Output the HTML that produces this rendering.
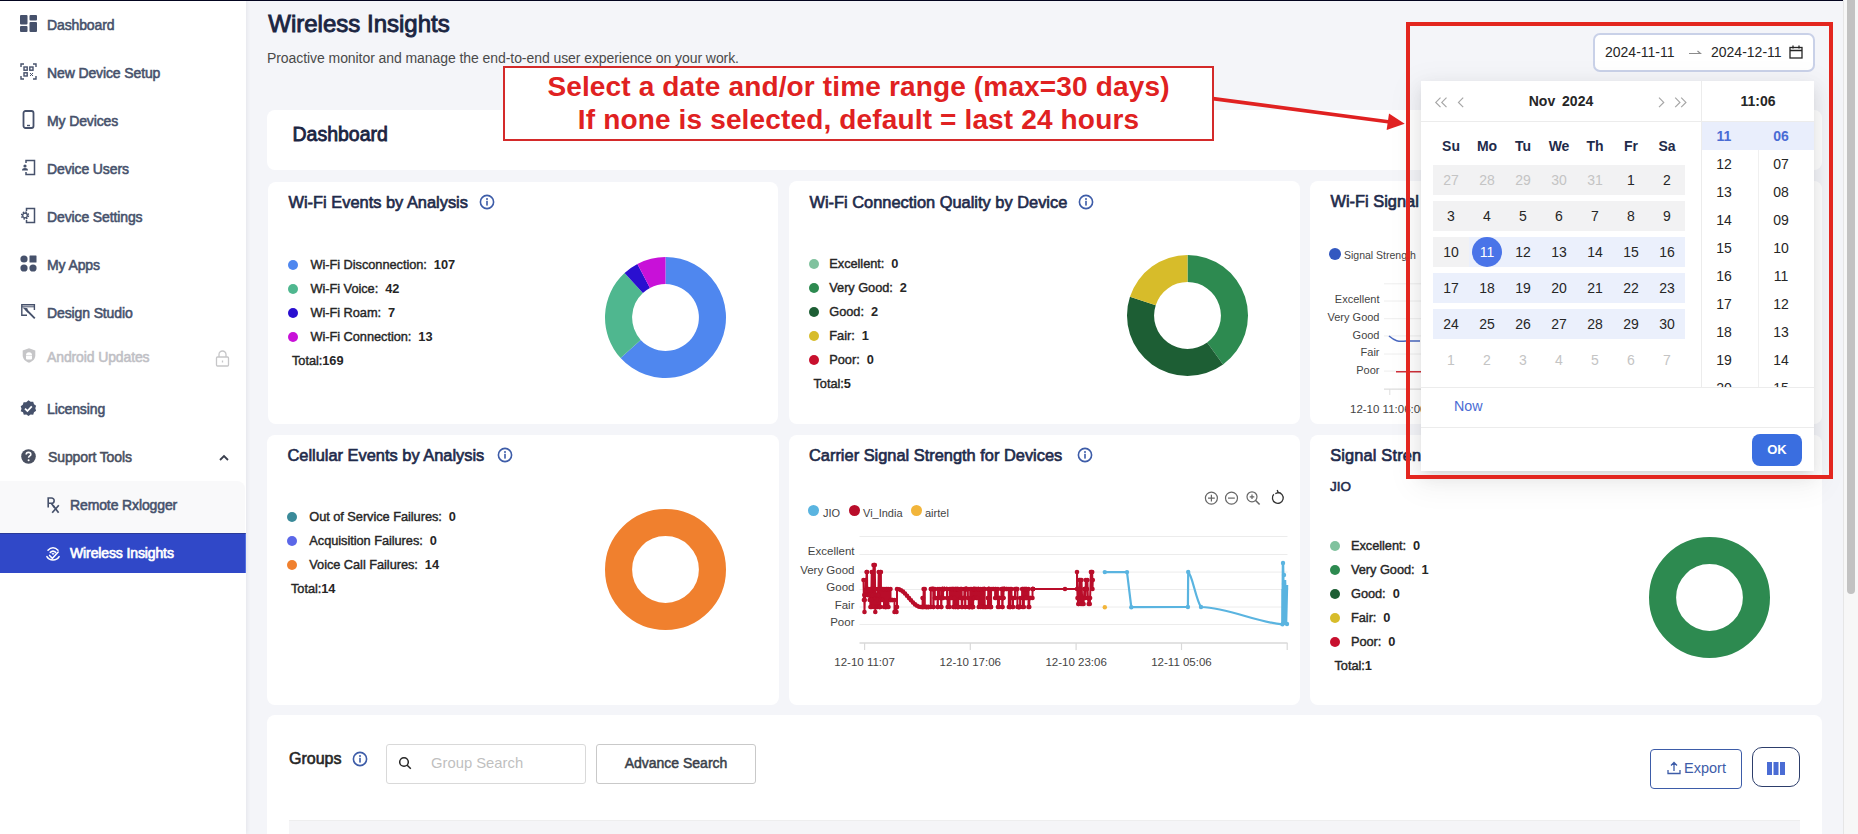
<!DOCTYPE html>
<html><head><meta charset="utf-8">
<style>
*{margin:0;padding:0;box-sizing:border-box}
html,body{width:1858px;height:834px;overflow:hidden}
body{position:relative;background:#f4f5f9;font-family:"Liberation Sans",sans-serif;color:#262626}
.a{position:absolute;white-space:nowrap}
.t{position:absolute;white-space:nowrap;line-height:20px;height:20px}
.side{position:absolute;left:0;top:0;width:246px;height:834px;background:#fff;box-shadow:1px 0 4px rgba(0,0,40,0.07)}
.nav{position:absolute;margin-top:-0.3px;left:47px;font-size:14px;font-weight:normal;-webkit-text-stroke:0.55px currentColor;color:#46516b;line-height:20px;height:20px;letter-spacing:-0.12px}
.ico{position:absolute}
.card{position:absolute;background:#fff;border-radius:8px}
.ct{position:absolute;font-size:16.4px;font-weight:normal;-webkit-text-stroke:0.65px currentColor;color:#1f2b4b;line-height:20px;height:20px;white-space:nowrap}
.lg{position:absolute;font-size:12.8px;font-weight:normal;-webkit-text-stroke:0.4px currentColor;color:#262626;line-height:16px;height:16px;white-space:nowrap;letter-spacing:-0.05px}
.lg b{-webkit-text-stroke:0}
.dot{position:absolute;width:10px;height:10px;border-radius:50%}
.info{position:absolute;width:16px;height:16px}
</style></head><body>
<div class="a" style="left:0;top:0;width:1843px;height:1px;background:#03041f;z-index:5"></div>
<div class="side">
 <!-- Dashboard icon -->
 <svg class="ico" style="left:20px;top:15px" width="17" height="17" viewBox="0 0 17 17"><g fill="#46516b"><rect x="0" y="0" width="7.5" height="9.5" rx="1"/><rect x="0" y="11" width="7.5" height="6" rx="1"/><rect x="9.5" y="0" width="7.5" height="5.5" rx="1"/><rect x="9.5" y="7" width="7.5" height="10" rx="1"/></g></svg>
 <div class="nav" style="top:15px">Dashboard</div>
 <!-- New device setup icon -->
 <svg class="ico" style="left:20px;top:63px" width="17" height="17" viewBox="0 0 17 17" fill="none" stroke="#46516b" stroke-width="1.4"><path d="M1 4V1h3M13 1h3v3M16 13v3h-3M4 16H1v-3"/><rect x="4" y="4" width="3.2" height="3.2"/><rect x="9.8" y="4" width="3.2" height="3.2"/><rect x="4" y="9.8" width="3.2" height="3.2"/><path d="M10 10l3 3M13 10l-3 3" stroke-width="1"/></svg>
 <div class="nav" style="top:63px">New Device Setup</div>
 <!-- My devices -->
 <svg class="ico" style="left:22px;top:110px" width="14" height="19" viewBox="0 0 14 19" fill="none" stroke="#46516b" stroke-width="1.8"><rect x="1.5" y="1" width="10" height="17" rx="2"/><path d="M5 15.5h3" stroke-width="1.4"/></svg>
 <div class="nav" style="top:111px">My Devices</div>
 <!-- Device users -->
 <svg class="ico" style="left:21px;top:159px" width="15" height="17" viewBox="0 0 15 17" fill="none" stroke="#46516b" stroke-width="1.5"><path d="M5 4V1.5h8.5v14H5V13"/><circle cx="4" cy="7" r="1.6" fill="#46516b" stroke="none"/><path d="M1 11.5c0-2 1.3-2.6 3-2.6s3 .6 3 2.6z" fill="#46516b" stroke="none"/></svg>
 <div class="nav" style="top:159px">Device Users</div>
 <!-- Device settings -->
 <svg class="ico" style="left:21px;top:207px" width="15" height="17" viewBox="0 0 15 17" fill="none" stroke="#46516b" stroke-width="1.5"><path d="M5.5 4V1.5h8v14h-8V13"/><circle cx="4" cy="8.5" r="2.3" stroke-width="1.3"/><circle cx="4" cy="8.5" r="3.4" stroke-width="1.6" stroke-dasharray="1.5 1.17"/></svg>
 <div class="nav" style="top:207px">Device Settings</div>
 <!-- My apps -->
 <svg class="ico" style="left:20px;top:255px" width="17" height="17" viewBox="0 0 17 17" fill="#46516b"><circle cx="4" cy="4" r="3.6"/><rect x="9.5" y="0.5" width="7" height="7" rx="0.5"/><circle cx="4" cy="13" r="3.6"/><circle cx="13" cy="13" r="3.6"/></svg>
 <div class="nav" style="top:255px">My Apps</div>
 <!-- Design studio -->
 <svg class="ico" style="left:21px;top:304px" width="15" height="15" viewBox="0 0 15 15" fill="none" stroke="#46516b" stroke-width="1.4"><path d="M6 11.3H0.8V0.8h12.6V6"/><path d="M0.8 2.8h12.6" stroke-width="1"/><path d="M3.5 4.5l2.3 0.3 0.3 2.3z" fill="#46516b"/><path d="M5 5.5l8.8 8.8" stroke-width="1.8"/></svg>
 <div class="nav" style="top:303px">Design Studio</div>
 <!-- Android updates (disabled) -->
 <svg class="ico" style="left:21.5px;top:348px" width="14" height="15" viewBox="0 0 14 15"><path fill="#c6c6c8" d="M7 0.3L13.3 2.6v4.6c0 3.6-2.7 6.3-6.3 7.6C3.4 13.5 0.7 10.8 0.7 7.2V2.6z"/><path fill="#fff" d="M4 7.2a3 3 0 0 1 6 0zM4 7.8h6v2.6a1 1 0 0 1-1 1H5a1 1 0 0 1-1-1z"/></svg>
 <div class="nav" style="top:347px;color:#bfc0c5">Android Updates</div>
 <svg class="ico" style="left:215px;top:350px" width="15" height="17" viewBox="0 0 15 17" fill="none" stroke="#c6c6c8" stroke-width="1.3"><path d="M4 7V4.5a3.5 3.5 0 0 1 7 0V7"/><rect x="1.5" y="7" width="12" height="9" rx="1"/><path d="M7.5 10.5v2"/></svg>
 <!-- Licensing -->
 <svg class="ico" style="left:20px;top:400px" width="17" height="17" viewBox="0 0 17 17"><path fill="#46516b" d="M8.5 0.3l2.1 1.5 2.6-.1.8 2.5 2.1 1.5-.8 2.5.8 2.5-2.1 1.5-.8 2.5-2.6-.1-2.1 1.5-2.1-1.5-2.6.1-.8-2.5L.7 11.2l.8-2.5-.8-2.5 2.1-1.5.8-2.5 2.6.1z"/><path d="M5 8.7l2.4 2.3 4.4-4.6" fill="none" stroke="#fff" stroke-width="1.8"/></svg>
 <div class="nav" style="top:399px">Licensing</div>
 <!-- Support tools -->
 <svg class="ico" style="left:21px;top:449px" width="15" height="15" viewBox="0 0 15 15"><circle cx="7.5" cy="7.5" r="7.3" fill="#4a5060"/><path d="M5.2 5.6c0-1.4 1-2.2 2.3-2.2s2.3.8 2.3 2c0 1.6-2.2 1.6-2.2 3.4" fill="none" stroke="#fff" stroke-width="1.6"/><circle cx="7.6" cy="11.2" r="1" fill="#fff"/></svg>
 <div class="nav" style="top:447px;left:48px;color:#4a5060">Support Tools</div>
 <svg class="ico" style="left:219px;top:454px" width="10" height="7" viewBox="0 0 10 7" fill="none" stroke="#3a3f4d" stroke-width="1.8"><path d="M1 6l4-4 4 4"/></svg>
 <!-- submenu -->
 <div class="a" style="left:0;top:481px;width:245px;height:52px;background:#f9f9fa;border-radius:0 8px 0 0"></div>
 <svg class="ico" style="left:47px;top:497px" width="13" height="17" viewBox="0 0 13 17" fill="none" stroke="#46516b" stroke-width="1.6"><path d="M1.2 10.5V1h3.3a2.6 2.6 0 0 1 0 5.3H1.2M4.2 6.3l3.6 4.6"/><path d="M5.2 15.8L11.8 8.2M6 8.2l5.6 7.6" stroke-width="1.7"/></svg>
 <div class="nav" style="top:495px;left:70px">Remote Rxlogger</div>
 <div class="a" style="left:0;top:533px;width:246px;height:40px;background:#3048c8;border-top:1px solid #2a3a99;border-right:1px solid #5470e0"></div>
 <svg class="ico" style="left:46px;top:546px" width="14" height="16" viewBox="0 0 14 16" fill="none" stroke="#fff" stroke-width="1.5" stroke-linecap="round"><path d="M2 4.2C5 1 9 1 12 4.2"/><path d="M4.3 6.4c1.6-1.5 3.8-1.5 5.4 0"/><path d="M6.2 7.7L7 8.6 7.8 7.7z" fill="#fff" stroke-width="0.8"/><path d="M3.6 9.4l2.8 2.9 5.8-6.2"/><path d="M0.9 10.6C3.5 15.2 10.5 15.2 13.1 10.6"/></svg>
 <div class="nav" style="top:543px;left:70px;color:#fff;-webkit-text-stroke:0.7px #fff">Wireless Insights</div>
</div>
<!-- header -->
<div class="t" style="left:268.3px;top:9.5px;height:28px;line-height:28px;font-size:24px;font-weight:normal;-webkit-text-stroke:0.9px #1b2542;color:#1b2542">Wireless Insights</div>
<div class="t" style="left:267px;top:48px;font-size:14px;color:#4a4a4a;letter-spacing:-0.07px">Proactive monitor and manage the end-to-end user experience on your work.</div>
<!-- Dashboard card -->
<div class="card" style="left:267px;top:110px;width:1555px;height:60px"></div>
<div class="t" style="left:292.5px;top:121.5px;height:24px;line-height:24px;font-size:19.5px;font-weight:normal;-webkit-text-stroke:0.8px #1b2542;color:#1b2542">Dashboard</div>
<div class="card" style="left:268px;top:182px;width:510px;height:242px"></div>
<div class="card" style="left:789px;top:181px;width:511px;height:243px"></div>
<div class="card" style="left:1310px;top:181px;width:512px;height:243px"></div>
<div class="card" style="left:267px;top:435px;width:512px;height:270px"></div>
<div class="card" style="left:789px;top:435px;width:511px;height:270px"></div>
<div class="card" style="left:1310px;top:435px;width:512px;height:270px"></div>
<div class="card" style="left:267px;top:715px;width:1555px;height:140px"></div>
<div class="ct" style="left:288.5px;top:192px">Wi-Fi Events by Analysis</div>
<svg class="a" style="left:479px;top:194px" width="16" height="16" viewBox="0 0 16 16"><circle cx="8" cy="8" r="6.6" fill="none" stroke="#3d5ca8" stroke-width="1.6"/><circle cx="8" cy="4.9" r="1" fill="#3d5ca8"/><rect x="7.2" y="6.8" width="1.6" height="4.8" fill="#3d5ca8"/></svg>
<div class="dot" style="left:288px;top:259.5px;background:#4f87ef"></div><div class="lg" style="left:310.5px;top:256.5px">Wi-Fi Disconnection:&nbsp; <b>107</b></div>
<div class="dot" style="left:288px;top:283.5px;background:#4fb78f"></div><div class="lg" style="left:310.5px;top:280.5px">Wi-Fi Voice:&nbsp; <b>42</b></div>
<div class="dot" style="left:288px;top:307.5px;background:#2a0fd0"></div><div class="lg" style="left:310.5px;top:304.5px">Wi-Fi Roam:&nbsp; <b>7</b></div>
<div class="dot" style="left:288px;top:331.5px;background:#c811d8"></div><div class="lg" style="left:310.5px;top:328.5px">Wi-Fi Connection:&nbsp; <b>13</b></div>
<div class="lg" style="left:292px;top:352.5px">Total:<b>169</b></div>
<svg class="a" style="left:603.5px;top:255.5px" width="123.0" height="123.0" viewBox="603.5 255.5 123.0 123.0"><path fill="#4f87ef" d="M665.00 256.50A60.5 60.5 0 1 1 620.09 357.54L640.21 339.38A33.4 33.4 0 1 0 665.00 283.60Z"/><path fill="#4fb78f" d="M620.09 357.54A60.5 60.5 0 0 1 624.05 272.47L642.39 292.42A33.4 33.4 0 0 0 640.21 339.38Z"/><path fill="#2a0fd0" d="M624.05 272.47A60.5 60.5 0 0 1 636.88 263.43L649.48 287.43A33.4 33.4 0 0 0 642.39 292.42Z"/><path fill="#c811d8" d="M636.88 263.43A60.5 60.5 0 0 1 665.00 256.50L665.00 283.60A33.4 33.4 0 0 0 649.48 287.43Z"/></svg>
<div class="ct" style="left:809.5px;top:191.5px">Wi-Fi Connection Quality by Device</div>
<svg class="a" style="left:1078px;top:193.5px" width="16" height="16" viewBox="0 0 16 16"><circle cx="8" cy="8" r="6.6" fill="none" stroke="#3d5ca8" stroke-width="1.6"/><circle cx="8" cy="4.9" r="1" fill="#3d5ca8"/><rect x="7.2" y="6.8" width="1.6" height="4.8" fill="#3d5ca8"/></svg>
<div class="dot" style="left:808.7px;top:258.5px;background:#80c29e"></div><div class="lg" style="left:829.3px;top:255.5px">Excellent:&nbsp; <b>0</b></div>
<div class="dot" style="left:808.7px;top:282.5px;background:#2d8a50"></div><div class="lg" style="left:829.3px;top:279.5px">Very Good:&nbsp; <b>2</b></div>
<div class="dot" style="left:808.7px;top:306.5px;background:#1d5e34"></div><div class="lg" style="left:829.3px;top:303.5px">Good:&nbsp; <b>2</b></div>
<div class="dot" style="left:808.7px;top:330.5px;background:#d7bc2a"></div><div class="lg" style="left:829.3px;top:327.5px">Fair:&nbsp; <b>1</b></div>
<div class="dot" style="left:808.7px;top:354.5px;background:#c8102e"></div><div class="lg" style="left:829.3px;top:351.5px">Poor:&nbsp; <b>0</b></div>
<div class="lg" style="left:813.5px;top:375.5px">Total:<b>5</b></div>
<svg class="a" style="left:1125.5px;top:254.3px" width="123.0" height="123.0" viewBox="1125.5 254.3 123.0 123.0"><path fill="#2d8a50" d="M1187.00 255.30A60.5 60.5 0 0 1 1222.56 364.75L1206.63 342.82A33.4 33.4 0 0 0 1187.00 282.40Z"/><path fill="#1d5e34" d="M1222.56 364.75A60.5 60.5 0 0 1 1129.46 297.10L1155.23 305.48A33.4 33.4 0 0 0 1206.63 342.82Z"/><path fill="#d7bc2a" d="M1129.46 297.10A60.5 60.5 0 0 1 1187.00 255.30L1187.00 282.40A33.4 33.4 0 0 0 1155.23 305.48Z"/></svg>
<div class="ct" style="left:1330.5px;top:190.5px">Wi-Fi Signal Strength</div>
<div class="dot" style="left:1329px;top:247.5px;width:12px;height:12px;background:#3358c0"></div>
<div class="a" style="left:1344px;top:248px;font-size:10.5px;color:#444;line-height:14px">Signal Strength</div>
<div class="a" style="left:1279.5px;width:100px;text-align:right;top:291.8px;font-size:11px;color:#444;line-height:14px">Excellent</div>
<div class="a" style="left:1279.5px;width:100px;text-align:right;top:310px;font-size:11px;color:#444;line-height:14px">Very Good</div>
<div class="a" style="left:1279.5px;width:100px;text-align:right;top:327.5px;font-size:11px;color:#444;line-height:14px">Good</div>
<div class="a" style="left:1279.5px;width:100px;text-align:right;top:345.4px;font-size:11px;color:#444;line-height:14px">Fair</div>
<div class="a" style="left:1279.5px;width:100px;text-align:right;top:362.6px;font-size:11px;color:#444;line-height:14px">Poor</div>
<svg class="a" style="left:1300px;top:270px" width="140" height="130" viewBox="1300 270 140 130"><line x1="1384" x2="1440" y1="283.8" y2="283.8" stroke="#eeeeee" stroke-width="1"/><line x1="1384" x2="1440" y1="301" y2="301" stroke="#eeeeee" stroke-width="1"/><line x1="1384" x2="1440" y1="318.7" y2="318.7" stroke="#eeeeee" stroke-width="1"/><line x1="1384" x2="1440" y1="335.9" y2="335.9" stroke="#eeeeee" stroke-width="1"/><line x1="1384" x2="1440" y1="354" y2="354" stroke="#eeeeee" stroke-width="1"/><line x1="1384" x2="1440" y1="371.1" y2="371.1" stroke="#eeeeee" stroke-width="1"/><line x1="1384" x2="1440" y1="389.2" y2="389.2" stroke="#dddddd" stroke-width="1.2"/><line x1="1389.8" x2="1389.8" y1="389" y2="395" stroke="#dddddd"/><path d="M1389 336c6 5 9 6 17 5l14 0" fill="none" stroke="#4a68c0" stroke-width="1.6"/><line x1="1396" x2="1440" y1="371.7" y2="371.7" stroke="#d0303a" stroke-width="1.6"/></svg>
<div class="a" style="left:1350px;top:402px;font-size:11.5px;color:#444;line-height:14px">12-10 11:06:00</div>
<div class="ct" style="left:287.5px;top:445px">Cellular Events by Analysis</div>
<svg class="a" style="left:497px;top:447px" width="16" height="16" viewBox="0 0 16 16"><circle cx="8" cy="8" r="6.6" fill="none" stroke="#3d5ca8" stroke-width="1.6"/><circle cx="8" cy="4.9" r="1" fill="#3d5ca8"/><rect x="7.2" y="6.8" width="1.6" height="4.8" fill="#3d5ca8"/></svg>
<div class="dot" style="left:287px;top:511.5px;background:#3a8a99"></div><div class="lg" style="left:309.3px;top:508.5px">Out of Service Failures:&nbsp; <b>0</b></div>
<div class="dot" style="left:287px;top:535.5px;background:#5b67e8"></div><div class="lg" style="left:309.3px;top:532.5px">Acquisition Failures:&nbsp; <b>0</b></div>
<div class="dot" style="left:287px;top:559.5px;background:#f0802e"></div><div class="lg" style="left:309.3px;top:556.5px">Voice Call Failures:&nbsp; <b>14</b></div>
<div class="lg" style="left:291px;top:580.5px">Total:<b>14</b></div>
<svg class="a" style="left:604.0px;top:507.5px" width="123.0" height="123.0" viewBox="604.0 507.5 123.0 123.0"><circle cx="665.5" cy="569" r="46.95" fill="none" stroke="#f0802e" stroke-width="27.1"/></svg>
<div class="ct" style="left:809px;top:445px">Carrier Signal Strength for Devices</div>
<svg class="a" style="left:1077px;top:447px" width="16" height="16" viewBox="0 0 16 16"><circle cx="8" cy="8" r="6.6" fill="none" stroke="#3d5ca8" stroke-width="1.6"/><circle cx="8" cy="4.9" r="1" fill="#3d5ca8"/><rect x="7.2" y="6.8" width="1.6" height="4.8" fill="#3d5ca8"/></svg>
<svg class="a" style="left:1200px;top:488px" width="90" height="20" viewBox="1200 488 90 20" fill="none" stroke="#666" stroke-width="1.2"><circle cx="1211.4" cy="498.1" r="6"/><path d="M1208 498.1h6.8M1211.4 494.7v6.8"/><circle cx="1231.5" cy="498.1" r="6"/><path d="M1228 498.1h6.8"/><circle cx="1252" cy="496.8" r="5"/><path d="M1255.6 500.5l4 4" stroke-width="1.6"/><path d="M1249.7 496.8h4.6M1252 494.5v4.6"/><path d="M1273.8 494.3a5.4 5.4 0 1 0 4 -1.8" stroke="#333" stroke-width="1.3"/><path d="M1277.2 490l1 2.7-2.9 1" stroke="#333" stroke-width="1.3"/></svg>
<div class="dot" style="left:808px;top:505px;width:11px;height:11px;background:#5ab4e0"></div><div class="a" style="left:823px;top:506px;font-size:11px;color:#444;line-height:14px">JIO</div>
<div class="dot" style="left:849px;top:505px;width:11px;height:11px;background:#b90d2a"></div><div class="a" style="left:863px;top:506px;font-size:11px;color:#444;line-height:14px">Vi_India</div>
<div class="dot" style="left:910.5px;top:505px;width:11px;height:11px;background:#f2b53a"></div><div class="a" style="left:925px;top:506px;font-size:11px;color:#444;line-height:14px">airtel</div>
<div class="a" style="left:754.5px;width:100px;text-align:right;top:544.4px;font-size:11.5px;color:#444;line-height:15px">Excellent</div>
<div class="a" style="left:754.5px;width:100px;text-align:right;top:562.8px;font-size:11.5px;color:#444;line-height:15px">Very Good</div>
<div class="a" style="left:754.5px;width:100px;text-align:right;top:579.6px;font-size:11.5px;color:#444;line-height:15px">Good</div>
<div class="a" style="left:754.5px;width:100px;text-align:right;top:597.7px;font-size:11.5px;color:#444;line-height:15px">Fair</div>
<div class="a" style="left:754.5px;width:100px;text-align:right;top:614.8px;font-size:11.5px;color:#444;line-height:15px">Poor</div>
<svg class="a" style="left:850px;top:525px" width="450" height="135" viewBox="850 525 450 135"><line x1="859.5" x2="1287.5" y1="536.5" y2="536.5" stroke="#ececec" stroke-width="1"/><line x1="859.5" x2="1287.5" y1="554.5" y2="554.5" stroke="#ececec" stroke-width="1"/><line x1="859.5" x2="1287.5" y1="572.1" y2="572.1" stroke="#ececec" stroke-width="1"/><line x1="859.5" x2="1287.5" y1="589.5" y2="589.5" stroke="#ececec" stroke-width="1"/><line x1="859.5" x2="1287.5" y1="607" y2="607" stroke="#ececec" stroke-width="1"/><line x1="859.5" x2="1287.5" y1="624.5" y2="624.5" stroke="#ececec" stroke-width="1"/><line x1="859.5" x2="1287.5" y1="643" y2="643" stroke="#d9d9d9" stroke-width="1.3"/><line x1="864.6" x2="864.6" y1="643" y2="650" stroke="#d9d9d9" stroke-width="1.2"/><line x1="970.3" x2="970.3" y1="643" y2="650" stroke="#d9d9d9" stroke-width="1.2"/><line x1="1076.1" x2="1076.1" y1="643" y2="650" stroke="#d9d9d9" stroke-width="1.2"/><line x1="1181.5" x2="1181.5" y1="643" y2="650" stroke="#d9d9d9" stroke-width="1.2"/><line x1="1287.2" x2="1287.2" y1="643" y2="650" stroke="#d9d9d9" stroke-width="1.2"/><path d="M863.5 580.0 L863.9 600.0 L864.3 595.0 L864.5 612.0 L864.8 600.0 L865.2 595.0 L865.6 595.0 L865.8 580.0 L866.2 595.0 L866.6 572.0 L867.0 572.0 L867.2 589.0 L867.6 595.0 L867.9 595.0 L868.3 595.0 L868.5 589.0 L868.7 595.0 L869.1 595.0 L869.4 595.0 L869.7 600.0 L870.1 595.0 L870.4 607.0 L870.6 589.0 L871.0 607.0 L871.3 600.0 L871.7 572.0 L871.9 607.0 L872.3 589.0 L872.5 595.0 L872.8 572.0 L873.0 595.0 L873.2 589.0 L873.5 565.0 L873.8 607.0 L874.2 589.0 L874.4 565.0 L874.8 565.0 L875.1 589.0 L875.3 612.0 L875.6 589.0 L875.9 595.0 L876.3 595.0 L876.7 607.0 L877.1 600.0 L877.5 607.0 L877.8 595.0 L878.2 589.0 L878.4 595.0 L878.7 572.0 L879.1 607.0 L879.5 607.0 L879.8 607.0 L880.2 607.0 L880.5 572.0 L880.9 572.0 L881.0 600.0 L882.5 600.0 L882.5 589.0 L884.0 589.0 L884.0 607.0 L885.5 607.0 L885.5 607.0 L886.0 607.0 L886.0 589.0 L887.0 589.0 L887.0 607.0 L888.5 607.0 L888.5 589.0 L890.5 589.0 L890.5 600.0 L891.0 600.0 L891.0 600.0 L892.5 600.0 L892.5 600.0 L894.5 600.0 L894.5 612.0 L896.5 612.0 L896.5 607.0 L897.0 607.0 L897.0 589.0 L899.0 589.3 L901.0 590.2 L903.0 591.6 L905.0 593.5 L907.0 595.7 L909.0 598.0 L911.0 600.3 L913.0 602.5 L915.0 604.4 L917.0 605.8 L919.0 606.7 L921.0 607.0 L922.0 607.0 L922.6 607.0 L922.6 598.0 L923.0 598.0 L923.0 607.0 L923.6 607.0 L923.6 589.0 L924.8 589.0 L924.8 607.0 L926.0 607.0 L926.0 607.0 L926.8 607.0 L926.8 607.0 L928.0 607.0 L928.0 607.0 L928.8 607.0 L928.8 607.0 L930.8 607.0 L930.8 589.0 L931.4 589.0 L931.4 589.0 L932.6 589.0 L932.6 589.0 L932.9 589.0 L932.9 589.0 L933.3 589.0 L933.3 607.0 L933.6 607.0 L933.6 589.0 L934.8 589.0 L934.8 598.0 L935.6 598.0 L935.6 598.0 L937.6 598.0 L937.6 607.0 L937.9 607.0 L937.9 589.0 L939.9 589.0 L939.9 598.0 L940.5 598.0 L940.5 598.0 L941.1 598.0 L941.1 607.0 L941.4 607.0 L941.4 598.0 L942.0 598.0 L942.0 589.0 L942.4 589.0 L942.4 589.0 L942.7 589.0 L942.7 598.0 L943.1 598.0 L943.1 589.0 L944.3 589.0 L944.3 589.0 L944.6 589.0 L944.6 589.0 L946.6 589.0 L946.6 589.0 L947.0 589.0 L947.0 598.0 L947.6 598.0 L947.6 607.0 L949.6 607.0 L949.6 589.0 L950.8 589.0 L950.8 598.0 L951.6 598.0 L951.6 589.0 L952.8 589.0 L952.8 589.0 L953.4 589.0 L953.4 607.0 L954.0 607.0 L954.0 598.0 L954.8 598.0 L954.8 589.0 L955.4 589.0 L955.4 607.0 L955.8 607.0 L955.8 589.0 L957.0 589.0 L957.0 589.0 L957.4 589.0 L957.4 607.0 L958.0 607.0 L958.0 607.0 L958.3 607.0 L958.3 589.0 L960.3 589.0 L960.3 598.0 L961.1 598.0 L961.1 589.0 L961.7 589.0 L961.7 607.0 L962.3 607.0 L962.3 598.0 L963.5 598.0 L963.5 598.0 L964.3 598.0 L964.3 589.0 L965.1 589.0 L965.1 607.0 L965.4 607.0 L965.4 589.0 L965.8 589.0 L965.8 589.0 L966.1 589.0 L966.1 589.0 L966.4 589.0 L966.4 589.0 L966.7 589.0 L966.7 589.0 L967.9 589.0 L967.9 598.0 L968.7 598.0 L968.7 607.0 L969.1 607.0 L969.1 607.0 L969.4 607.0 L969.4 607.0 L970.2 607.0 L970.2 589.0 L971.4 589.0 L971.4 607.0 L972.0 607.0 L972.0 607.0 L972.4 607.0 L972.4 607.0 L973.2 607.0 L973.2 589.0 L973.6 589.0 L973.6 598.0 L973.9 598.0 L973.9 589.0 L974.2 589.0 L974.2 598.0 L974.6 598.0 L974.6 589.0 L975.2 589.0 L975.2 589.0 L976.4 589.0 L976.4 598.0 L977.2 598.0 L977.2 589.0 L978.4 589.0 L978.4 589.0 L978.7 589.0 L978.7 607.0 L980.7 607.0 L980.7 589.0 L982.7 589.0 L982.7 607.0 L983.5 607.0 L983.5 589.0 L984.3 589.0 L984.3 589.0 L984.7 589.0 L984.7 607.0 L985.9 607.0 L985.9 607.0 L987.9 607.0 L987.9 598.0 L988.2 598.0 L988.2 589.0 L988.6 589.0 L988.6 589.0 L989.0 589.0 L989.0 589.0 L989.6 589.0 L989.6 607.0 L990.8 607.0 L990.8 607.0 L991.1 607.0 L991.1 589.0 L993.1 589.0 L993.1 589.0 L995.1 589.0 L995.1 598.0 L995.9 598.0 L995.9 589.0 L997.9 589.0 L997.9 607.0 L999.1 607.0 L999.1 598.0 L999.4 598.0 L999.4 598.0 L1001.4 598.0 L1001.4 589.0 L1002.2 589.0 L1002.2 607.0 L1002.6 607.0 L1002.6 589.0 L1002.9 589.0 L1002.9 598.0 L1003.2 598.0 L1003.2 598.0 L1003.5 598.0 L1003.5 589.0 L1003.9 589.0 L1003.9 589.0 L1004.5 589.0 L1004.5 589.0 L1004.8 589.0 L1004.8 589.0 L1006.8 589.0 L1006.8 589.0 L1008.8 589.0 L1008.8 607.0 L1010.0 607.0 L1010.0 607.0 L1010.3 607.0 L1010.3 589.0 L1011.5 589.0 L1011.5 598.0 L1012.7 598.0 L1012.7 607.0 L1013.0 607.0 L1013.0 598.0 L1015.0 598.0 L1015.0 589.0 L1016.2 589.0 L1016.2 589.0 L1017.4 589.0 L1017.4 607.0 L1018.6 607.0 L1018.6 607.0 L1018.9 607.0 L1018.9 607.0 L1019.3 607.0 L1019.3 607.0 L1020.1 607.0 L1020.1 598.0 L1022.1 598.0 L1022.1 589.0 L1022.7 589.0 L1022.7 607.0 L1023.9 607.0 L1023.9 589.0 L1024.5 589.0 L1024.5 598.0 L1025.3 598.0 L1025.3 589.0 L1026.1 589.0 L1026.1 598.0 L1026.5 598.0 L1026.5 589.0 L1028.5 589.0 L1028.5 607.0 L1029.3 607.0 L1029.3 598.0 L1030.5 598.0 L1030.5 598.0 L1032.5 598.0 L1032.5 589.0 L1032.9 589.0 L1032.9 589.0 L1033.0 589.0 L1033.0 589.0 L1065.0 589.0 L1077.0 589.0 L1077.0 572.0 L1077.5 598.0 L1078.3 604.0 L1078.8 604.0 L1079.6 580.0 L1079.9 589.0 L1080.2 580.0 L1081.0 604.0 L1081.5 580.0 L1082.3 604.0 L1082.8 598.0 L1083.6 604.0 L1084.4 589.0 L1084.7 589.0 L1085.0 589.0 L1085.5 598.0 L1085.8 580.0 L1086.6 589.0 L1086.9 589.0 L1087.4 580.0 L1087.9 598.0 L1088.7 604.0 L1089.0 598.0 L1089.8 604.0 L1090.1 598.0 L1090.9 572.0 L1091.4 572.0 L1091.9 580.0 L1092.2 572.0 L1092.5 589.0 L1092.8 580.0" fill="none" stroke="#b90d2a" stroke-width="2" stroke-linejoin="round"/><circle cx="863.5" cy="580.0" r="2.3" fill="#b90d2a"/><circle cx="863.9" cy="600.0" r="2.3" fill="#b90d2a"/><circle cx="864.3" cy="595.0" r="2.3" fill="#b90d2a"/><circle cx="864.5" cy="612.0" r="2.3" fill="#b90d2a"/><circle cx="864.8" cy="600.0" r="2.3" fill="#b90d2a"/><circle cx="865.2" cy="595.0" r="2.3" fill="#b90d2a"/><circle cx="865.6" cy="595.0" r="2.3" fill="#b90d2a"/><circle cx="865.8" cy="580.0" r="2.3" fill="#b90d2a"/><circle cx="866.2" cy="595.0" r="2.3" fill="#b90d2a"/><circle cx="866.6" cy="572.0" r="2.3" fill="#b90d2a"/><circle cx="867.0" cy="572.0" r="2.3" fill="#b90d2a"/><circle cx="867.2" cy="589.0" r="2.3" fill="#b90d2a"/><circle cx="867.6" cy="595.0" r="2.3" fill="#b90d2a"/><circle cx="867.9" cy="595.0" r="2.3" fill="#b90d2a"/><circle cx="868.3" cy="595.0" r="2.3" fill="#b90d2a"/><circle cx="868.5" cy="589.0" r="2.3" fill="#b90d2a"/><circle cx="868.7" cy="595.0" r="2.3" fill="#b90d2a"/><circle cx="869.1" cy="595.0" r="2.3" fill="#b90d2a"/><circle cx="869.4" cy="595.0" r="2.3" fill="#b90d2a"/><circle cx="869.7" cy="600.0" r="2.3" fill="#b90d2a"/><circle cx="870.1" cy="595.0" r="2.3" fill="#b90d2a"/><circle cx="870.4" cy="607.0" r="2.3" fill="#b90d2a"/><circle cx="870.6" cy="589.0" r="2.3" fill="#b90d2a"/><circle cx="871.0" cy="607.0" r="2.3" fill="#b90d2a"/><circle cx="871.3" cy="600.0" r="2.3" fill="#b90d2a"/><circle cx="871.7" cy="572.0" r="2.3" fill="#b90d2a"/><circle cx="871.9" cy="607.0" r="2.3" fill="#b90d2a"/><circle cx="872.3" cy="589.0" r="2.3" fill="#b90d2a"/><circle cx="872.5" cy="595.0" r="2.3" fill="#b90d2a"/><circle cx="872.8" cy="572.0" r="2.3" fill="#b90d2a"/><circle cx="873.0" cy="595.0" r="2.3" fill="#b90d2a"/><circle cx="873.2" cy="589.0" r="2.3" fill="#b90d2a"/><circle cx="873.5" cy="565.0" r="2.3" fill="#b90d2a"/><circle cx="873.8" cy="607.0" r="2.3" fill="#b90d2a"/><circle cx="874.2" cy="589.0" r="2.3" fill="#b90d2a"/><circle cx="874.4" cy="565.0" r="2.3" fill="#b90d2a"/><circle cx="874.8" cy="565.0" r="2.3" fill="#b90d2a"/><circle cx="875.1" cy="589.0" r="2.3" fill="#b90d2a"/><circle cx="875.3" cy="612.0" r="2.3" fill="#b90d2a"/><circle cx="875.6" cy="589.0" r="2.3" fill="#b90d2a"/><circle cx="875.9" cy="595.0" r="2.3" fill="#b90d2a"/><circle cx="876.3" cy="595.0" r="2.3" fill="#b90d2a"/><circle cx="876.7" cy="607.0" r="2.3" fill="#b90d2a"/><circle cx="877.1" cy="600.0" r="2.3" fill="#b90d2a"/><circle cx="877.5" cy="607.0" r="2.3" fill="#b90d2a"/><circle cx="877.8" cy="595.0" r="2.3" fill="#b90d2a"/><circle cx="878.2" cy="589.0" r="2.3" fill="#b90d2a"/><circle cx="878.4" cy="595.0" r="2.3" fill="#b90d2a"/><circle cx="878.7" cy="572.0" r="2.3" fill="#b90d2a"/><circle cx="879.1" cy="607.0" r="2.3" fill="#b90d2a"/><circle cx="879.5" cy="607.0" r="2.3" fill="#b90d2a"/><circle cx="879.8" cy="607.0" r="2.3" fill="#b90d2a"/><circle cx="880.2" cy="607.0" r="2.3" fill="#b90d2a"/><circle cx="880.5" cy="572.0" r="2.3" fill="#b90d2a"/><circle cx="880.9" cy="572.0" r="2.3" fill="#b90d2a"/><circle cx="881.0" cy="600.0" r="2.3" fill="#b90d2a"/><circle cx="882.5" cy="600.0" r="2.3" fill="#b90d2a"/><circle cx="882.5" cy="589.0" r="2.3" fill="#b90d2a"/><circle cx="884.0" cy="589.0" r="2.3" fill="#b90d2a"/><circle cx="884.0" cy="607.0" r="2.3" fill="#b90d2a"/><circle cx="885.5" cy="607.0" r="2.3" fill="#b90d2a"/><circle cx="885.5" cy="607.0" r="2.3" fill="#b90d2a"/><circle cx="886.0" cy="607.0" r="2.3" fill="#b90d2a"/><circle cx="886.0" cy="589.0" r="2.3" fill="#b90d2a"/><circle cx="887.0" cy="589.0" r="2.3" fill="#b90d2a"/><circle cx="887.0" cy="607.0" r="2.3" fill="#b90d2a"/><circle cx="888.5" cy="607.0" r="2.3" fill="#b90d2a"/><circle cx="888.5" cy="589.0" r="2.3" fill="#b90d2a"/><circle cx="890.5" cy="589.0" r="2.3" fill="#b90d2a"/><circle cx="890.5" cy="600.0" r="2.3" fill="#b90d2a"/><circle cx="891.0" cy="600.0" r="2.3" fill="#b90d2a"/><circle cx="891.0" cy="600.0" r="2.3" fill="#b90d2a"/><circle cx="892.5" cy="600.0" r="2.3" fill="#b90d2a"/><circle cx="892.5" cy="600.0" r="2.3" fill="#b90d2a"/><circle cx="894.5" cy="600.0" r="2.3" fill="#b90d2a"/><circle cx="894.5" cy="612.0" r="2.3" fill="#b90d2a"/><circle cx="896.5" cy="612.0" r="2.3" fill="#b90d2a"/><circle cx="896.5" cy="607.0" r="2.3" fill="#b90d2a"/><circle cx="897.0" cy="607.0" r="2.3" fill="#b90d2a"/><circle cx="897.0" cy="589.0" r="2.3" fill="#b90d2a"/><circle cx="899.0" cy="589.3" r="2.3" fill="#b90d2a"/><circle cx="901.0" cy="590.2" r="2.3" fill="#b90d2a"/><circle cx="903.0" cy="591.6" r="2.3" fill="#b90d2a"/><circle cx="905.0" cy="593.5" r="2.3" fill="#b90d2a"/><circle cx="907.0" cy="595.7" r="2.3" fill="#b90d2a"/><circle cx="909.0" cy="598.0" r="2.3" fill="#b90d2a"/><circle cx="911.0" cy="600.3" r="2.3" fill="#b90d2a"/><circle cx="913.0" cy="602.5" r="2.3" fill="#b90d2a"/><circle cx="915.0" cy="604.4" r="2.3" fill="#b90d2a"/><circle cx="917.0" cy="605.8" r="2.3" fill="#b90d2a"/><circle cx="919.0" cy="606.7" r="2.3" fill="#b90d2a"/><circle cx="921.0" cy="607.0" r="2.3" fill="#b90d2a"/><circle cx="922.0" cy="607.0" r="2.3" fill="#b90d2a"/><circle cx="922.6" cy="607.0" r="2.3" fill="#b90d2a"/><circle cx="922.6" cy="598.0" r="2.3" fill="#b90d2a"/><circle cx="923.0" cy="598.0" r="2.3" fill="#b90d2a"/><circle cx="923.0" cy="607.0" r="2.3" fill="#b90d2a"/><circle cx="923.6" cy="607.0" r="2.3" fill="#b90d2a"/><circle cx="923.6" cy="589.0" r="2.3" fill="#b90d2a"/><circle cx="924.8" cy="589.0" r="2.3" fill="#b90d2a"/><circle cx="924.8" cy="607.0" r="2.3" fill="#b90d2a"/><circle cx="926.0" cy="607.0" r="2.3" fill="#b90d2a"/><circle cx="926.0" cy="607.0" r="2.3" fill="#b90d2a"/><circle cx="926.8" cy="607.0" r="2.3" fill="#b90d2a"/><circle cx="926.8" cy="607.0" r="2.3" fill="#b90d2a"/><circle cx="928.0" cy="607.0" r="2.3" fill="#b90d2a"/><circle cx="928.0" cy="607.0" r="2.3" fill="#b90d2a"/><circle cx="928.8" cy="607.0" r="2.3" fill="#b90d2a"/><circle cx="928.8" cy="607.0" r="2.3" fill="#b90d2a"/><circle cx="930.8" cy="607.0" r="2.3" fill="#b90d2a"/><circle cx="930.8" cy="589.0" r="2.3" fill="#b90d2a"/><circle cx="931.4" cy="589.0" r="2.3" fill="#b90d2a"/><circle cx="931.4" cy="589.0" r="2.3" fill="#b90d2a"/><circle cx="932.6" cy="589.0" r="2.3" fill="#b90d2a"/><circle cx="932.6" cy="589.0" r="2.3" fill="#b90d2a"/><circle cx="932.9" cy="589.0" r="2.3" fill="#b90d2a"/><circle cx="932.9" cy="589.0" r="2.3" fill="#b90d2a"/><circle cx="933.3" cy="589.0" r="2.3" fill="#b90d2a"/><circle cx="933.3" cy="607.0" r="2.3" fill="#b90d2a"/><circle cx="933.6" cy="607.0" r="2.3" fill="#b90d2a"/><circle cx="933.6" cy="589.0" r="2.3" fill="#b90d2a"/><circle cx="934.8" cy="589.0" r="2.3" fill="#b90d2a"/><circle cx="934.8" cy="598.0" r="2.3" fill="#b90d2a"/><circle cx="935.6" cy="598.0" r="2.3" fill="#b90d2a"/><circle cx="935.6" cy="598.0" r="2.3" fill="#b90d2a"/><circle cx="937.6" cy="598.0" r="2.3" fill="#b90d2a"/><circle cx="937.6" cy="607.0" r="2.3" fill="#b90d2a"/><circle cx="937.9" cy="607.0" r="2.3" fill="#b90d2a"/><circle cx="937.9" cy="589.0" r="2.3" fill="#b90d2a"/><circle cx="939.9" cy="589.0" r="2.3" fill="#b90d2a"/><circle cx="939.9" cy="598.0" r="2.3" fill="#b90d2a"/><circle cx="940.5" cy="598.0" r="2.3" fill="#b90d2a"/><circle cx="940.5" cy="598.0" r="2.3" fill="#b90d2a"/><circle cx="941.1" cy="598.0" r="2.3" fill="#b90d2a"/><circle cx="941.1" cy="607.0" r="2.3" fill="#b90d2a"/><circle cx="941.4" cy="607.0" r="2.3" fill="#b90d2a"/><circle cx="941.4" cy="598.0" r="2.3" fill="#b90d2a"/><circle cx="942.0" cy="598.0" r="2.3" fill="#b90d2a"/><circle cx="942.0" cy="589.0" r="2.3" fill="#b90d2a"/><circle cx="942.4" cy="589.0" r="2.3" fill="#b90d2a"/><circle cx="942.4" cy="589.0" r="2.3" fill="#b90d2a"/><circle cx="942.7" cy="589.0" r="2.3" fill="#b90d2a"/><circle cx="942.7" cy="598.0" r="2.3" fill="#b90d2a"/><circle cx="943.1" cy="598.0" r="2.3" fill="#b90d2a"/><circle cx="943.1" cy="589.0" r="2.3" fill="#b90d2a"/><circle cx="944.3" cy="589.0" r="2.3" fill="#b90d2a"/><circle cx="944.3" cy="589.0" r="2.3" fill="#b90d2a"/><circle cx="944.6" cy="589.0" r="2.3" fill="#b90d2a"/><circle cx="944.6" cy="589.0" r="2.3" fill="#b90d2a"/><circle cx="946.6" cy="589.0" r="2.3" fill="#b90d2a"/><circle cx="946.6" cy="589.0" r="2.3" fill="#b90d2a"/><circle cx="947.0" cy="589.0" r="2.3" fill="#b90d2a"/><circle cx="947.0" cy="598.0" r="2.3" fill="#b90d2a"/><circle cx="947.6" cy="598.0" r="2.3" fill="#b90d2a"/><circle cx="947.6" cy="607.0" r="2.3" fill="#b90d2a"/><circle cx="949.6" cy="607.0" r="2.3" fill="#b90d2a"/><circle cx="949.6" cy="589.0" r="2.3" fill="#b90d2a"/><circle cx="950.8" cy="589.0" r="2.3" fill="#b90d2a"/><circle cx="950.8" cy="598.0" r="2.3" fill="#b90d2a"/><circle cx="951.6" cy="598.0" r="2.3" fill="#b90d2a"/><circle cx="951.6" cy="589.0" r="2.3" fill="#b90d2a"/><circle cx="952.8" cy="589.0" r="2.3" fill="#b90d2a"/><circle cx="952.8" cy="589.0" r="2.3" fill="#b90d2a"/><circle cx="953.4" cy="589.0" r="2.3" fill="#b90d2a"/><circle cx="953.4" cy="607.0" r="2.3" fill="#b90d2a"/><circle cx="954.0" cy="607.0" r="2.3" fill="#b90d2a"/><circle cx="954.0" cy="598.0" r="2.3" fill="#b90d2a"/><circle cx="954.8" cy="598.0" r="2.3" fill="#b90d2a"/><circle cx="954.8" cy="589.0" r="2.3" fill="#b90d2a"/><circle cx="955.4" cy="589.0" r="2.3" fill="#b90d2a"/><circle cx="955.4" cy="607.0" r="2.3" fill="#b90d2a"/><circle cx="955.8" cy="607.0" r="2.3" fill="#b90d2a"/><circle cx="955.8" cy="589.0" r="2.3" fill="#b90d2a"/><circle cx="957.0" cy="589.0" r="2.3" fill="#b90d2a"/><circle cx="957.0" cy="589.0" r="2.3" fill="#b90d2a"/><circle cx="957.4" cy="589.0" r="2.3" fill="#b90d2a"/><circle cx="957.4" cy="607.0" r="2.3" fill="#b90d2a"/><circle cx="958.0" cy="607.0" r="2.3" fill="#b90d2a"/><circle cx="958.0" cy="607.0" r="2.3" fill="#b90d2a"/><circle cx="958.3" cy="607.0" r="2.3" fill="#b90d2a"/><circle cx="958.3" cy="589.0" r="2.3" fill="#b90d2a"/><circle cx="960.3" cy="589.0" r="2.3" fill="#b90d2a"/><circle cx="960.3" cy="598.0" r="2.3" fill="#b90d2a"/><circle cx="961.1" cy="598.0" r="2.3" fill="#b90d2a"/><circle cx="961.1" cy="589.0" r="2.3" fill="#b90d2a"/><circle cx="961.7" cy="589.0" r="2.3" fill="#b90d2a"/><circle cx="961.7" cy="607.0" r="2.3" fill="#b90d2a"/><circle cx="962.3" cy="607.0" r="2.3" fill="#b90d2a"/><circle cx="962.3" cy="598.0" r="2.3" fill="#b90d2a"/><circle cx="963.5" cy="598.0" r="2.3" fill="#b90d2a"/><circle cx="963.5" cy="598.0" r="2.3" fill="#b90d2a"/><circle cx="964.3" cy="598.0" r="2.3" fill="#b90d2a"/><circle cx="964.3" cy="589.0" r="2.3" fill="#b90d2a"/><circle cx="965.1" cy="589.0" r="2.3" fill="#b90d2a"/><circle cx="965.1" cy="607.0" r="2.3" fill="#b90d2a"/><circle cx="965.4" cy="607.0" r="2.3" fill="#b90d2a"/><circle cx="965.4" cy="589.0" r="2.3" fill="#b90d2a"/><circle cx="965.8" cy="589.0" r="2.3" fill="#b90d2a"/><circle cx="965.8" cy="589.0" r="2.3" fill="#b90d2a"/><circle cx="966.1" cy="589.0" r="2.3" fill="#b90d2a"/><circle cx="966.1" cy="589.0" r="2.3" fill="#b90d2a"/><circle cx="966.4" cy="589.0" r="2.3" fill="#b90d2a"/><circle cx="966.4" cy="589.0" r="2.3" fill="#b90d2a"/><circle cx="966.7" cy="589.0" r="2.3" fill="#b90d2a"/><circle cx="966.7" cy="589.0" r="2.3" fill="#b90d2a"/><circle cx="967.9" cy="589.0" r="2.3" fill="#b90d2a"/><circle cx="967.9" cy="598.0" r="2.3" fill="#b90d2a"/><circle cx="968.7" cy="598.0" r="2.3" fill="#b90d2a"/><circle cx="968.7" cy="607.0" r="2.3" fill="#b90d2a"/><circle cx="969.1" cy="607.0" r="2.3" fill="#b90d2a"/><circle cx="969.1" cy="607.0" r="2.3" fill="#b90d2a"/><circle cx="969.4" cy="607.0" r="2.3" fill="#b90d2a"/><circle cx="969.4" cy="607.0" r="2.3" fill="#b90d2a"/><circle cx="970.2" cy="607.0" r="2.3" fill="#b90d2a"/><circle cx="970.2" cy="589.0" r="2.3" fill="#b90d2a"/><circle cx="971.4" cy="589.0" r="2.3" fill="#b90d2a"/><circle cx="971.4" cy="607.0" r="2.3" fill="#b90d2a"/><circle cx="972.0" cy="607.0" r="2.3" fill="#b90d2a"/><circle cx="972.0" cy="607.0" r="2.3" fill="#b90d2a"/><circle cx="972.4" cy="607.0" r="2.3" fill="#b90d2a"/><circle cx="972.4" cy="607.0" r="2.3" fill="#b90d2a"/><circle cx="973.2" cy="607.0" r="2.3" fill="#b90d2a"/><circle cx="973.2" cy="589.0" r="2.3" fill="#b90d2a"/><circle cx="973.6" cy="589.0" r="2.3" fill="#b90d2a"/><circle cx="973.6" cy="598.0" r="2.3" fill="#b90d2a"/><circle cx="973.9" cy="598.0" r="2.3" fill="#b90d2a"/><circle cx="973.9" cy="589.0" r="2.3" fill="#b90d2a"/><circle cx="974.2" cy="589.0" r="2.3" fill="#b90d2a"/><circle cx="974.2" cy="598.0" r="2.3" fill="#b90d2a"/><circle cx="974.6" cy="598.0" r="2.3" fill="#b90d2a"/><circle cx="974.6" cy="589.0" r="2.3" fill="#b90d2a"/><circle cx="975.2" cy="589.0" r="2.3" fill="#b90d2a"/><circle cx="975.2" cy="589.0" r="2.3" fill="#b90d2a"/><circle cx="976.4" cy="589.0" r="2.3" fill="#b90d2a"/><circle cx="976.4" cy="598.0" r="2.3" fill="#b90d2a"/><circle cx="977.2" cy="598.0" r="2.3" fill="#b90d2a"/><circle cx="977.2" cy="589.0" r="2.3" fill="#b90d2a"/><circle cx="978.4" cy="589.0" r="2.3" fill="#b90d2a"/><circle cx="978.4" cy="589.0" r="2.3" fill="#b90d2a"/><circle cx="978.7" cy="589.0" r="2.3" fill="#b90d2a"/><circle cx="978.7" cy="607.0" r="2.3" fill="#b90d2a"/><circle cx="980.7" cy="607.0" r="2.3" fill="#b90d2a"/><circle cx="980.7" cy="589.0" r="2.3" fill="#b90d2a"/><circle cx="982.7" cy="589.0" r="2.3" fill="#b90d2a"/><circle cx="982.7" cy="607.0" r="2.3" fill="#b90d2a"/><circle cx="983.5" cy="607.0" r="2.3" fill="#b90d2a"/><circle cx="983.5" cy="589.0" r="2.3" fill="#b90d2a"/><circle cx="984.3" cy="589.0" r="2.3" fill="#b90d2a"/><circle cx="984.3" cy="589.0" r="2.3" fill="#b90d2a"/><circle cx="984.7" cy="589.0" r="2.3" fill="#b90d2a"/><circle cx="984.7" cy="607.0" r="2.3" fill="#b90d2a"/><circle cx="985.9" cy="607.0" r="2.3" fill="#b90d2a"/><circle cx="985.9" cy="607.0" r="2.3" fill="#b90d2a"/><circle cx="987.9" cy="607.0" r="2.3" fill="#b90d2a"/><circle cx="987.9" cy="598.0" r="2.3" fill="#b90d2a"/><circle cx="988.2" cy="598.0" r="2.3" fill="#b90d2a"/><circle cx="988.2" cy="589.0" r="2.3" fill="#b90d2a"/><circle cx="988.6" cy="589.0" r="2.3" fill="#b90d2a"/><circle cx="988.6" cy="589.0" r="2.3" fill="#b90d2a"/><circle cx="989.0" cy="589.0" r="2.3" fill="#b90d2a"/><circle cx="989.0" cy="589.0" r="2.3" fill="#b90d2a"/><circle cx="989.6" cy="589.0" r="2.3" fill="#b90d2a"/><circle cx="989.6" cy="607.0" r="2.3" fill="#b90d2a"/><circle cx="990.8" cy="607.0" r="2.3" fill="#b90d2a"/><circle cx="990.8" cy="607.0" r="2.3" fill="#b90d2a"/><circle cx="991.1" cy="607.0" r="2.3" fill="#b90d2a"/><circle cx="991.1" cy="589.0" r="2.3" fill="#b90d2a"/><circle cx="993.1" cy="589.0" r="2.3" fill="#b90d2a"/><circle cx="993.1" cy="589.0" r="2.3" fill="#b90d2a"/><circle cx="995.1" cy="589.0" r="2.3" fill="#b90d2a"/><circle cx="995.1" cy="598.0" r="2.3" fill="#b90d2a"/><circle cx="995.9" cy="598.0" r="2.3" fill="#b90d2a"/><circle cx="995.9" cy="589.0" r="2.3" fill="#b90d2a"/><circle cx="997.9" cy="589.0" r="2.3" fill="#b90d2a"/><circle cx="997.9" cy="607.0" r="2.3" fill="#b90d2a"/><circle cx="999.1" cy="607.0" r="2.3" fill="#b90d2a"/><circle cx="999.1" cy="598.0" r="2.3" fill="#b90d2a"/><circle cx="999.4" cy="598.0" r="2.3" fill="#b90d2a"/><circle cx="999.4" cy="598.0" r="2.3" fill="#b90d2a"/><circle cx="1001.4" cy="598.0" r="2.3" fill="#b90d2a"/><circle cx="1001.4" cy="589.0" r="2.3" fill="#b90d2a"/><circle cx="1002.2" cy="589.0" r="2.3" fill="#b90d2a"/><circle cx="1002.2" cy="607.0" r="2.3" fill="#b90d2a"/><circle cx="1002.6" cy="607.0" r="2.3" fill="#b90d2a"/><circle cx="1002.6" cy="589.0" r="2.3" fill="#b90d2a"/><circle cx="1002.9" cy="589.0" r="2.3" fill="#b90d2a"/><circle cx="1002.9" cy="598.0" r="2.3" fill="#b90d2a"/><circle cx="1003.2" cy="598.0" r="2.3" fill="#b90d2a"/><circle cx="1003.2" cy="598.0" r="2.3" fill="#b90d2a"/><circle cx="1003.5" cy="598.0" r="2.3" fill="#b90d2a"/><circle cx="1003.5" cy="589.0" r="2.3" fill="#b90d2a"/><circle cx="1003.9" cy="589.0" r="2.3" fill="#b90d2a"/><circle cx="1003.9" cy="589.0" r="2.3" fill="#b90d2a"/><circle cx="1004.5" cy="589.0" r="2.3" fill="#b90d2a"/><circle cx="1004.5" cy="589.0" r="2.3" fill="#b90d2a"/><circle cx="1004.8" cy="589.0" r="2.3" fill="#b90d2a"/><circle cx="1004.8" cy="589.0" r="2.3" fill="#b90d2a"/><circle cx="1006.8" cy="589.0" r="2.3" fill="#b90d2a"/><circle cx="1006.8" cy="589.0" r="2.3" fill="#b90d2a"/><circle cx="1008.8" cy="589.0" r="2.3" fill="#b90d2a"/><circle cx="1008.8" cy="607.0" r="2.3" fill="#b90d2a"/><circle cx="1010.0" cy="607.0" r="2.3" fill="#b90d2a"/><circle cx="1010.0" cy="607.0" r="2.3" fill="#b90d2a"/><circle cx="1010.3" cy="607.0" r="2.3" fill="#b90d2a"/><circle cx="1010.3" cy="589.0" r="2.3" fill="#b90d2a"/><circle cx="1011.5" cy="589.0" r="2.3" fill="#b90d2a"/><circle cx="1011.5" cy="598.0" r="2.3" fill="#b90d2a"/><circle cx="1012.7" cy="598.0" r="2.3" fill="#b90d2a"/><circle cx="1012.7" cy="607.0" r="2.3" fill="#b90d2a"/><circle cx="1013.0" cy="607.0" r="2.3" fill="#b90d2a"/><circle cx="1013.0" cy="598.0" r="2.3" fill="#b90d2a"/><circle cx="1015.0" cy="598.0" r="2.3" fill="#b90d2a"/><circle cx="1015.0" cy="589.0" r="2.3" fill="#b90d2a"/><circle cx="1016.2" cy="589.0" r="2.3" fill="#b90d2a"/><circle cx="1016.2" cy="589.0" r="2.3" fill="#b90d2a"/><circle cx="1017.4" cy="589.0" r="2.3" fill="#b90d2a"/><circle cx="1017.4" cy="607.0" r="2.3" fill="#b90d2a"/><circle cx="1018.6" cy="607.0" r="2.3" fill="#b90d2a"/><circle cx="1018.6" cy="607.0" r="2.3" fill="#b90d2a"/><circle cx="1018.9" cy="607.0" r="2.3" fill="#b90d2a"/><circle cx="1018.9" cy="607.0" r="2.3" fill="#b90d2a"/><circle cx="1019.3" cy="607.0" r="2.3" fill="#b90d2a"/><circle cx="1019.3" cy="607.0" r="2.3" fill="#b90d2a"/><circle cx="1020.1" cy="607.0" r="2.3" fill="#b90d2a"/><circle cx="1020.1" cy="598.0" r="2.3" fill="#b90d2a"/><circle cx="1022.1" cy="598.0" r="2.3" fill="#b90d2a"/><circle cx="1022.1" cy="589.0" r="2.3" fill="#b90d2a"/><circle cx="1022.7" cy="589.0" r="2.3" fill="#b90d2a"/><circle cx="1022.7" cy="607.0" r="2.3" fill="#b90d2a"/><circle cx="1023.9" cy="607.0" r="2.3" fill="#b90d2a"/><circle cx="1023.9" cy="589.0" r="2.3" fill="#b90d2a"/><circle cx="1024.5" cy="589.0" r="2.3" fill="#b90d2a"/><circle cx="1024.5" cy="598.0" r="2.3" fill="#b90d2a"/><circle cx="1025.3" cy="598.0" r="2.3" fill="#b90d2a"/><circle cx="1025.3" cy="589.0" r="2.3" fill="#b90d2a"/><circle cx="1026.1" cy="589.0" r="2.3" fill="#b90d2a"/><circle cx="1026.1" cy="598.0" r="2.3" fill="#b90d2a"/><circle cx="1026.5" cy="598.0" r="2.3" fill="#b90d2a"/><circle cx="1026.5" cy="589.0" r="2.3" fill="#b90d2a"/><circle cx="1028.5" cy="589.0" r="2.3" fill="#b90d2a"/><circle cx="1028.5" cy="607.0" r="2.3" fill="#b90d2a"/><circle cx="1029.3" cy="607.0" r="2.3" fill="#b90d2a"/><circle cx="1029.3" cy="598.0" r="2.3" fill="#b90d2a"/><circle cx="1030.5" cy="598.0" r="2.3" fill="#b90d2a"/><circle cx="1030.5" cy="598.0" r="2.3" fill="#b90d2a"/><circle cx="1032.5" cy="598.0" r="2.3" fill="#b90d2a"/><circle cx="1032.5" cy="589.0" r="2.3" fill="#b90d2a"/><circle cx="1032.9" cy="589.0" r="2.3" fill="#b90d2a"/><circle cx="1032.9" cy="589.0" r="2.3" fill="#b90d2a"/><circle cx="1033.0" cy="589.0" r="2.3" fill="#b90d2a"/><circle cx="1033.0" cy="589.0" r="2.3" fill="#b90d2a"/><circle cx="1065.0" cy="589.0" r="2.3" fill="#b90d2a"/><circle cx="1077.0" cy="589.0" r="2.3" fill="#b90d2a"/><circle cx="1077.0" cy="572.0" r="2.3" fill="#b90d2a"/><circle cx="1077.5" cy="598.0" r="2.3" fill="#b90d2a"/><circle cx="1078.3" cy="604.0" r="2.3" fill="#b90d2a"/><circle cx="1078.8" cy="604.0" r="2.3" fill="#b90d2a"/><circle cx="1079.6" cy="580.0" r="2.3" fill="#b90d2a"/><circle cx="1079.9" cy="589.0" r="2.3" fill="#b90d2a"/><circle cx="1080.2" cy="580.0" r="2.3" fill="#b90d2a"/><circle cx="1081.0" cy="604.0" r="2.3" fill="#b90d2a"/><circle cx="1081.5" cy="580.0" r="2.3" fill="#b90d2a"/><circle cx="1082.3" cy="604.0" r="2.3" fill="#b90d2a"/><circle cx="1082.8" cy="598.0" r="2.3" fill="#b90d2a"/><circle cx="1083.6" cy="604.0" r="2.3" fill="#b90d2a"/><circle cx="1084.4" cy="589.0" r="2.3" fill="#b90d2a"/><circle cx="1084.7" cy="589.0" r="2.3" fill="#b90d2a"/><circle cx="1085.0" cy="589.0" r="2.3" fill="#b90d2a"/><circle cx="1085.5" cy="598.0" r="2.3" fill="#b90d2a"/><circle cx="1085.8" cy="580.0" r="2.3" fill="#b90d2a"/><circle cx="1086.6" cy="589.0" r="2.3" fill="#b90d2a"/><circle cx="1086.9" cy="589.0" r="2.3" fill="#b90d2a"/><circle cx="1087.4" cy="580.0" r="2.3" fill="#b90d2a"/><circle cx="1087.9" cy="598.0" r="2.3" fill="#b90d2a"/><circle cx="1088.7" cy="604.0" r="2.3" fill="#b90d2a"/><circle cx="1089.0" cy="598.0" r="2.3" fill="#b90d2a"/><circle cx="1089.8" cy="604.0" r="2.3" fill="#b90d2a"/><circle cx="1090.1" cy="598.0" r="2.3" fill="#b90d2a"/><circle cx="1090.9" cy="572.0" r="2.3" fill="#b90d2a"/><circle cx="1091.4" cy="572.0" r="2.3" fill="#b90d2a"/><circle cx="1091.9" cy="580.0" r="2.3" fill="#b90d2a"/><circle cx="1092.2" cy="572.0" r="2.3" fill="#b90d2a"/><circle cx="1092.5" cy="589.0" r="2.3" fill="#b90d2a"/><circle cx="1092.8" cy="580.0" r="2.3" fill="#b90d2a"/><path d="M1104.8 572.1L1127 572.1L1131.3 607.2L1187.9 607L1188.2 572C1192 574 1196 600 1201 607C1230 608 1255 622 1282.5 624.3" fill="none" stroke="#5ab4e0" stroke-width="2.2"/><path d="M1282.5 624L1283 563L1284 624L1285 580L1286 624L1287 585L1284 600L1285.5 620" fill="none" stroke="#5ab4e0" stroke-width="2.5"/><circle cx="1104.8" cy="572.1" r="2.2" fill="#5ab4e0"/><circle cx="1127" cy="572.1" r="2.2" fill="#5ab4e0"/><circle cx="1131.3" cy="607.2" r="2.2" fill="#5ab4e0"/><circle cx="1187.9" cy="607" r="2.2" fill="#5ab4e0"/><circle cx="1188.2" cy="572" r="2.2" fill="#5ab4e0"/><circle cx="1201" cy="607" r="2.2" fill="#5ab4e0"/><circle cx="1282.5" cy="624.3" r="2.2" fill="#5ab4e0"/><circle cx="1283" cy="563" r="2.2" fill="#5ab4e0"/><circle cx="1284" cy="575" r="2.2" fill="#5ab4e0"/><circle cx="1284" cy="584" r="2.2" fill="#5ab4e0"/><circle cx="1286" cy="589" r="2.2" fill="#5ab4e0"/><circle cx="1284" cy="596" r="2.2" fill="#5ab4e0"/><circle cx="1287" cy="624" r="2.2" fill="#5ab4e0"/><rect x="1281.5" y="589" width="5.5" height="36" fill="#5ab4e0"/><circle cx="1104.8" cy="607.2" r="2.2" fill="#f2b53a"/></svg>
<div class="a" style="left:814.6px;width:100px;text-align:center;top:654.8px;font-size:11.5px;color:#444;line-height:15px">12-10 11:07</div>
<div class="a" style="left:920.3px;width:100px;text-align:center;top:654.8px;font-size:11.5px;color:#444;line-height:15px">12-10 17:06</div>
<div class="a" style="left:1026.1px;width:100px;text-align:center;top:654.8px;font-size:11.5px;color:#444;line-height:15px">12-10 23:06</div>
<div class="a" style="left:1131.5px;width:100px;text-align:center;top:654.8px;font-size:11.5px;color:#444;line-height:15px">12-11 05:06</div>
<div class="ct" style="letter-spacing:0.15px;left:1330.2px;top:445px">Signal Strength for Devices</div>
<div class="a" style="left:1330px;top:478.5px;font-size:13.5px;font-weight:normal;-webkit-text-stroke:0.55px #1f2b4b;color:#1f2b4b;line-height:16px">JIO</div>
<div class="dot" style="left:1330px;top:540.5px;background:#80c29e"></div><div class="lg" style="left:1351px;top:537.5px">Excellent:&nbsp; <b>0</b></div>
<div class="dot" style="left:1330px;top:564.5px;background:#2d8a50"></div><div class="lg" style="left:1351px;top:561.5px">Very Good:&nbsp; <b>1</b></div>
<div class="dot" style="left:1330px;top:588.5px;background:#1d5e34"></div><div class="lg" style="left:1351px;top:585.5px">Good:&nbsp; <b>0</b></div>
<div class="dot" style="left:1330px;top:612.5px;background:#d7bc2a"></div><div class="lg" style="left:1351px;top:609.5px">Fair:&nbsp; <b>0</b></div>
<div class="dot" style="left:1330px;top:636.5px;background:#c8102e"></div><div class="lg" style="left:1351px;top:633.5px">Poor:&nbsp; <b>0</b></div>
<div class="lg" style="left:1334.5px;top:657.5px">Total:<b>1</b></div>
<svg class="a" style="left:1648.2px;top:536.4px" width="123.0" height="123.0" viewBox="1648.2 536.4 123.0 123.0"><circle cx="1709.7" cy="597.9" r="46.95" fill="none" stroke="#2d8a50" stroke-width="27.1"/></svg>
<div class="a" style="left:289px;top:749px;font-size:16px;font-weight:normal;-webkit-text-stroke:0.6px #262626;color:#262626;line-height:20px">Groups</div>
<svg class="a" style="left:352px;top:751px" width="16" height="16" viewBox="0 0 16 16"><circle cx="8" cy="8" r="6.6" fill="none" stroke="#3d5ca8" stroke-width="1.6"/><circle cx="8" cy="4.9" r="1" fill="#3d5ca8"/><rect x="7.2" y="6.8" width="1.6" height="4.8" fill="#3d5ca8"/></svg>
<div class="a" style="left:386px;top:744px;width:200px;height:39.5px;border:1px solid #d9d9d9;border-radius:3px;background:#fff"></div>
<svg class="a" style="left:398px;top:756px" width="15" height="15" viewBox="0 0 15 15" fill="none" stroke="#262626" stroke-width="1.5"><circle cx="6" cy="6" r="4.3"/><path d="M9.2 9.2l3.6 3.6"/></svg>
<div class="a" style="left:431px;top:754px;font-size:14.8px;color:#bfbfbf;line-height:18px">Group Search</div>
<div class="a" style="left:596px;top:744px;width:160px;height:39.5px;border:1px solid #c9c9c9;border-radius:3px;background:#fff"></div>
<div class="a" style="left:596px;top:754px;width:160px;text-align:center;font-size:14px;font-weight:normal;-webkit-text-stroke:0.5px #3a3f4a;color:#3a3f4a;line-height:18px">Advance Search</div>
<div class="a" style="left:1650px;top:749px;width:92px;height:40px;border:1.2px solid #3d5ca8;border-radius:4px;background:#fff"></div>
<svg class="a" style="left:1667px;top:761px" width="14" height="14" viewBox="0 0 14 14" fill="none" stroke="#3d5ca8" stroke-width="1.3"><path d="M7 10V1.5M4 4.5L7 1.5 10 4.5M1 9v3.5h12V9"/></svg>
<div class="a" style="left:1684px;top:759px;font-size:14.5px;color:#3d5ca8;line-height:18px">Export</div>
<div class="a" style="left:1752px;top:747px;width:48px;height:40px;border:1.3px solid #2d3e6b;border-radius:10px;background:#fff"></div>
<svg class="a" style="left:1767px;top:762px" width="18" height="13" viewBox="0 0 18 13" fill="#4a6cd4"><rect x="0" y="0" width="5" height="13"/><rect x="6.5" y="0" width="5" height="13"/><rect x="13" y="0" width="5" height="13"/></svg>
<div class="a" style="left:289px;top:820px;width:1511px;height:20px;background:#f5f5f7;border-top:1px solid #eeeeee"></div><div class="a" style="left:1843px;top:0;width:15px;height:834px;background:#f7f7f7;border-left:1px solid #e6e6e6;z-index:6"></div>
<div class="a" style="left:1847px;top:0;width:8px;height:594px;background:#c2c2c2;border-radius:0 0 4px 4px;z-index:7"></div>
<div class="a" style="left:503px;top:66px;width:711px;height:75px;background:#fff;border:2px solid #d42a2a;z-index:8"></div>
<div class="a" style="left:503px;top:70px;width:711px;text-align:center;font-size:28px;font-weight:bold;color:#e02121;line-height:33px;letter-spacing:0.15px;z-index:9">Select a date and/or time range (max=30 days)<br>If none is selected, default = last 24 hours</div>
<svg class="a" style="left:1200px;top:85px;z-index:9" width="220" height="50" viewBox="1200 85 220 50"><path d="M1213 98.6L1390 122" stroke="#e02121" stroke-width="3.6"/><path d="M1404.7 123.7L1389 113.4L1386.6 130Z" fill="#e02121"/></svg>
<div class="a" style="left:1593px;top:33px;width:222px;height:39px;background:#fff;border:2px solid #c9d1e8;border-radius:7px;z-index:3"></div>
<div class="a" style="left:1605px;top:43px;font-size:14px;color:#262626;line-height:18px;z-index:4">2024-11-11</div>
<svg class="a" style="left:1688px;top:48px;z-index:4" width="14" height="8" viewBox="0 0 14 8" fill="none" stroke="#8c8c8c" stroke-width="1.2"><path d="M1 5.5h11.5L9.5 3"/></svg>
<div class="a" style="left:1711px;top:43px;font-size:14px;color:#262626;line-height:18px;z-index:4">2024-12-11</div>
<svg class="a" style="left:1789px;top:45px;z-index:4" width="14" height="14" viewBox="0 0 14 14" fill="none" stroke="#262626" stroke-width="1.3"><rect x="1" y="2.5" width="12" height="10.5"/><path d="M1 5.5h12M4 0.5v3M10 0.5v3"/></svg>
<div class="a" style="left:1421px;top:81px;width:393px;height:390px;background:#fff;box-shadow:0 6px 16px 0 rgba(0,0,0,.08),0 3px 6px -4px rgba(0,0,0,.12),0 9px 28px 8px rgba(0,0,0,.05);z-index:3"></div>
<div class="a" style="left:1421px;top:121px;width:393px;height:1px;background:#ececec;z-index:4;"></div>
<div class="a" style="left:1701px;top:81px;width:1px;height:306px;background:#ececec;z-index:4;"></div>
<div class="a" style="left:1758px;top:149px;width:1px;height:238px;background:#f0f0f0;z-index:4;"></div>
<div class="a" style="left:1421px;top:386.5px;width:393px;height:1px;background:#ececec;z-index:4;"></div>
<div class="a" style="left:1421px;top:427px;width:393px;height:1px;background:#ececec;z-index:4;"></div>
<svg class="a" style="left:1430px;top:92px;z-index:4;" width="36" height="20" viewBox="1430 92 36 20" fill="none" stroke="#a6a6a6" stroke-width="1.2"><path d="M1440.5 97.7L1435.8 102.4L1440.5 107.1M1446.5 97.7L1441.8 102.4L1446.5 107.1M1463.2 97.7L1458.5 102.4L1463.2 107.1"/></svg>
<svg class="a" style="left:1655px;top:92px;z-index:4;" width="36" height="20" viewBox="1655 92 36 20" fill="none" stroke="#a6a6a6" stroke-width="1.2"><path d="M1659 97.7L1663.7 102.4L1659 107.1M1675.2 97.7L1679.9 102.4L1675.2 107.1M1681.2 97.7L1685.9 102.4L1681.2 107.1"/></svg>
<div class="a" style="left:1501px;top:92px;width:120px;text-align:center;font-size:14px;font-weight:bold;color:#262626;line-height:18px;word-spacing:3px;z-index:4;">Nov 2024</div>
<div class="a" style="left:1433px;top:137px;width:36px;text-align:center;font-size:14px;font-weight:bold;color:#1f2b4b;line-height:18px;z-index:4;">Su</div>
<div class="a" style="left:1469px;top:137px;width:36px;text-align:center;font-size:14px;font-weight:bold;color:#1f2b4b;line-height:18px;z-index:4;">Mo</div>
<div class="a" style="left:1505px;top:137px;width:36px;text-align:center;font-size:14px;font-weight:bold;color:#1f2b4b;line-height:18px;z-index:4;">Tu</div>
<div class="a" style="left:1541px;top:137px;width:36px;text-align:center;font-size:14px;font-weight:bold;color:#1f2b4b;line-height:18px;z-index:4;">We</div>
<div class="a" style="left:1577px;top:137px;width:36px;text-align:center;font-size:14px;font-weight:bold;color:#1f2b4b;line-height:18px;z-index:4;">Th</div>
<div class="a" style="left:1613px;top:137px;width:36px;text-align:center;font-size:14px;font-weight:bold;color:#1f2b4b;line-height:18px;z-index:4;">Fr</div>
<div class="a" style="left:1649px;top:137px;width:36px;text-align:center;font-size:14px;font-weight:bold;color:#1f2b4b;line-height:18px;z-index:4;">Sa</div>
<div class="a" style="left:1433px;top:165px;width:252px;height:30px;background:#f2f2f3;z-index:4;"></div>
<div class="a" style="left:1433px;top:171px;width:36px;text-align:center;font-size:14px;color:#c4c4c4;line-height:18px;z-index:4;">27</div>
<div class="a" style="left:1469px;top:171px;width:36px;text-align:center;font-size:14px;color:#c4c4c4;line-height:18px;z-index:4;">28</div>
<div class="a" style="left:1505px;top:171px;width:36px;text-align:center;font-size:14px;color:#c4c4c4;line-height:18px;z-index:4;">29</div>
<div class="a" style="left:1541px;top:171px;width:36px;text-align:center;font-size:14px;color:#c4c4c4;line-height:18px;z-index:4;">30</div>
<div class="a" style="left:1577px;top:171px;width:36px;text-align:center;font-size:14px;color:#c4c4c4;line-height:18px;z-index:4;">31</div>
<div class="a" style="left:1613px;top:171px;width:36px;text-align:center;font-size:14px;color:#262626;line-height:18px;z-index:4;">1</div>
<div class="a" style="left:1649px;top:171px;width:36px;text-align:center;font-size:14px;color:#262626;line-height:18px;z-index:4;">2</div>
<div class="a" style="left:1433px;top:201px;width:252px;height:30px;background:#f2f2f3;z-index:4;"></div>
<div class="a" style="left:1433px;top:207px;width:36px;text-align:center;font-size:14px;color:#262626;line-height:18px;z-index:4;">3</div>
<div class="a" style="left:1469px;top:207px;width:36px;text-align:center;font-size:14px;color:#262626;line-height:18px;z-index:4;">4</div>
<div class="a" style="left:1505px;top:207px;width:36px;text-align:center;font-size:14px;color:#262626;line-height:18px;z-index:4;">5</div>
<div class="a" style="left:1541px;top:207px;width:36px;text-align:center;font-size:14px;color:#262626;line-height:18px;z-index:4;">6</div>
<div class="a" style="left:1577px;top:207px;width:36px;text-align:center;font-size:14px;color:#262626;line-height:18px;z-index:4;">7</div>
<div class="a" style="left:1613px;top:207px;width:36px;text-align:center;font-size:14px;color:#262626;line-height:18px;z-index:4;">8</div>
<div class="a" style="left:1649px;top:207px;width:36px;text-align:center;font-size:14px;color:#262626;line-height:18px;z-index:4;">9</div>
<div class="a" style="left:1433px;top:237px;width:36px;height:30px;background:#f2f2f3;z-index:4;"></div>
<div class="a" style="left:1469px;top:237px;width:216px;height:30px;background:#ebf0fc;z-index:4;"></div>
<div class="a" style="left:1433px;top:243px;width:36px;text-align:center;font-size:14px;color:#262626;line-height:18px;z-index:4;">10</div>
<div class="a" style="left:1472px;top:237px;width:30px;height:30px;border-radius:50%;background:#4a74e8;z-index:4;"></div>
<div class="a" style="left:1469px;top:243px;width:36px;text-align:center;font-size:14px;color:#fff;line-height:18px;z-index:4;">11</div>
<div class="a" style="left:1505px;top:243px;width:36px;text-align:center;font-size:14px;color:#262626;line-height:18px;z-index:4;">12</div>
<div class="a" style="left:1541px;top:243px;width:36px;text-align:center;font-size:14px;color:#262626;line-height:18px;z-index:4;">13</div>
<div class="a" style="left:1577px;top:243px;width:36px;text-align:center;font-size:14px;color:#262626;line-height:18px;z-index:4;">14</div>
<div class="a" style="left:1613px;top:243px;width:36px;text-align:center;font-size:14px;color:#262626;line-height:18px;z-index:4;">15</div>
<div class="a" style="left:1649px;top:243px;width:36px;text-align:center;font-size:14px;color:#262626;line-height:18px;z-index:4;">16</div>
<div class="a" style="left:1433px;top:273px;width:252px;height:30px;background:#ebf0fc;z-index:4;"></div>
<div class="a" style="left:1433px;top:279px;width:36px;text-align:center;font-size:14px;color:#262626;line-height:18px;z-index:4;">17</div>
<div class="a" style="left:1469px;top:279px;width:36px;text-align:center;font-size:14px;color:#262626;line-height:18px;z-index:4;">18</div>
<div class="a" style="left:1505px;top:279px;width:36px;text-align:center;font-size:14px;color:#262626;line-height:18px;z-index:4;">19</div>
<div class="a" style="left:1541px;top:279px;width:36px;text-align:center;font-size:14px;color:#262626;line-height:18px;z-index:4;">20</div>
<div class="a" style="left:1577px;top:279px;width:36px;text-align:center;font-size:14px;color:#262626;line-height:18px;z-index:4;">21</div>
<div class="a" style="left:1613px;top:279px;width:36px;text-align:center;font-size:14px;color:#262626;line-height:18px;z-index:4;">22</div>
<div class="a" style="left:1649px;top:279px;width:36px;text-align:center;font-size:14px;color:#262626;line-height:18px;z-index:4;">23</div>
<div class="a" style="left:1433px;top:309px;width:252px;height:30px;background:#ebf0fc;z-index:4;"></div>
<div class="a" style="left:1433px;top:315px;width:36px;text-align:center;font-size:14px;color:#262626;line-height:18px;z-index:4;">24</div>
<div class="a" style="left:1469px;top:315px;width:36px;text-align:center;font-size:14px;color:#262626;line-height:18px;z-index:4;">25</div>
<div class="a" style="left:1505px;top:315px;width:36px;text-align:center;font-size:14px;color:#262626;line-height:18px;z-index:4;">26</div>
<div class="a" style="left:1541px;top:315px;width:36px;text-align:center;font-size:14px;color:#262626;line-height:18px;z-index:4;">27</div>
<div class="a" style="left:1577px;top:315px;width:36px;text-align:center;font-size:14px;color:#262626;line-height:18px;z-index:4;">28</div>
<div class="a" style="left:1613px;top:315px;width:36px;text-align:center;font-size:14px;color:#262626;line-height:18px;z-index:4;">29</div>
<div class="a" style="left:1649px;top:315px;width:36px;text-align:center;font-size:14px;color:#262626;line-height:18px;z-index:4;">30</div>
<div class="a" style="left:1433px;top:351px;width:36px;text-align:center;font-size:14px;color:#c4c4c4;line-height:18px;z-index:4;">1</div>
<div class="a" style="left:1469px;top:351px;width:36px;text-align:center;font-size:14px;color:#c4c4c4;line-height:18px;z-index:4;">2</div>
<div class="a" style="left:1505px;top:351px;width:36px;text-align:center;font-size:14px;color:#c4c4c4;line-height:18px;z-index:4;">3</div>
<div class="a" style="left:1541px;top:351px;width:36px;text-align:center;font-size:14px;color:#c4c4c4;line-height:18px;z-index:4;">4</div>
<div class="a" style="left:1577px;top:351px;width:36px;text-align:center;font-size:14px;color:#c4c4c4;line-height:18px;z-index:4;">5</div>
<div class="a" style="left:1613px;top:351px;width:36px;text-align:center;font-size:14px;color:#c4c4c4;line-height:18px;z-index:4;">6</div>
<div class="a" style="left:1649px;top:351px;width:36px;text-align:center;font-size:14px;color:#c4c4c4;line-height:18px;z-index:4;">7</div>
<div class="a" style="left:1702px;top:92px;width:112px;text-align:center;font-size:14px;font-weight:bold;color:#262626;line-height:18px;z-index:4;">11:06</div>
<div class="a" style="left:1702px;top:121.5px;width:112px;height:28px;background:#e9eefc;z-index:4;"></div>
<div class="a" style="left:1702px;top:126.5px;width:44px;text-align:center;font-size:14px;line-height:18px;font-weight:bold;color:#4a6cd4;z-index:4;">11</div>
<div class="a" style="left:1759px;top:126.5px;width:44px;text-align:center;font-size:14px;line-height:18px;font-weight:bold;color:#4a6cd4;z-index:4;">06</div>
<div class="a" style="left:1702px;top:154.5px;width:44px;text-align:center;font-size:14px;line-height:18px;color:#262626;z-index:4;">12</div>
<div class="a" style="left:1759px;top:154.5px;width:44px;text-align:center;font-size:14px;line-height:18px;color:#262626;z-index:4;">07</div>
<div class="a" style="left:1702px;top:182.5px;width:44px;text-align:center;font-size:14px;line-height:18px;color:#262626;z-index:4;">13</div>
<div class="a" style="left:1759px;top:182.5px;width:44px;text-align:center;font-size:14px;line-height:18px;color:#262626;z-index:4;">08</div>
<div class="a" style="left:1702px;top:210.5px;width:44px;text-align:center;font-size:14px;line-height:18px;color:#262626;z-index:4;">14</div>
<div class="a" style="left:1759px;top:210.5px;width:44px;text-align:center;font-size:14px;line-height:18px;color:#262626;z-index:4;">09</div>
<div class="a" style="left:1702px;top:238.5px;width:44px;text-align:center;font-size:14px;line-height:18px;color:#262626;z-index:4;">15</div>
<div class="a" style="left:1759px;top:238.5px;width:44px;text-align:center;font-size:14px;line-height:18px;color:#262626;z-index:4;">10</div>
<div class="a" style="left:1702px;top:266.5px;width:44px;text-align:center;font-size:14px;line-height:18px;color:#262626;z-index:4;">16</div>
<div class="a" style="left:1759px;top:266.5px;width:44px;text-align:center;font-size:14px;line-height:18px;color:#262626;z-index:4;">11</div>
<div class="a" style="left:1702px;top:294.5px;width:44px;text-align:center;font-size:14px;line-height:18px;color:#262626;z-index:4;">17</div>
<div class="a" style="left:1759px;top:294.5px;width:44px;text-align:center;font-size:14px;line-height:18px;color:#262626;z-index:4;">12</div>
<div class="a" style="left:1702px;top:322.5px;width:44px;text-align:center;font-size:14px;line-height:18px;color:#262626;z-index:4;">18</div>
<div class="a" style="left:1759px;top:322.5px;width:44px;text-align:center;font-size:14px;line-height:18px;color:#262626;z-index:4;">13</div>
<div class="a" style="left:1702px;top:350.5px;width:44px;text-align:center;font-size:14px;line-height:18px;color:#262626;z-index:4;">19</div>
<div class="a" style="left:1759px;top:350.5px;width:44px;text-align:center;font-size:14px;line-height:18px;color:#262626;z-index:4;">14</div>
<div class="a" style="left:1702px;top:378.5px;width:44px;text-align:center;font-size:14px;line-height:18px;color:#262626;z-index:4;">20</div>
<div class="a" style="left:1759px;top:378.5px;width:44px;text-align:center;font-size:14px;line-height:18px;color:#262626;z-index:4;">15</div>
<div class="a" style="left:1702px;top:387px;width:112px;height:40px;background:#fff;z-index:5"></div>
<div class="a" style="left:1421px;top:386.5px;width:393px;height:1px;background:#ececec;z-index:6"></div>
<div class="a" style="left:1454px;top:397px;font-size:14.3px;color:#4a6cd4;line-height:18px;z-index:4;">Now</div>
<div class="a" style="left:1752px;top:434px;width:50px;height:32px;background:#3a6ee0;border-radius:8px;text-align:center;font-size:13px;font-weight:bold;color:#fff;line-height:32px;z-index:4;">OK</div>
<div class="a" style="left:1406px;top:22px;width:427px;height:457px;border:4px solid #e3261f;z-index:9"></div>
</body></html>
